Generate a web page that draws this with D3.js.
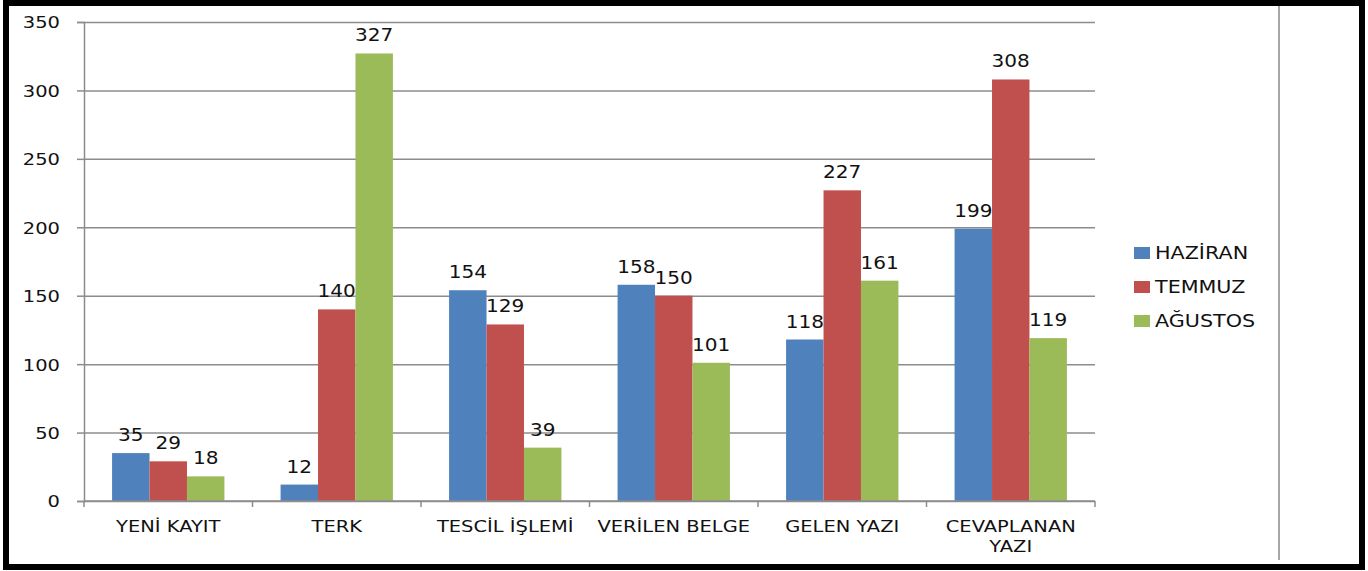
<!DOCTYPE html>
<html>
<head>
<meta charset="utf-8">
<script src="https://cdn.jsdelivr.net/npm/d3@7"></script>
<style>
  body { margin: 0; background: #fff; }
  svg { display: block; }
  text { font-family: "DejaVu Sans", sans-serif; fill: #111; }
</style>
</head>
<body>
<svg width="1368" height="571"></svg>
<script>
// chart values
const categories = ['YENİ KAYIT', 'TERK', 'TESCİL İŞLEMİ', 'VERİLEN BELGE', 'GELEN YAZI', 'CEVAPLANAN YAZI'];
const seriesNames = ['HAZİRAN', 'TEMMUZ', 'AĞUSTOS'];
const haziran = [35, 12, 154, 158, 118, 199];
const temmuz = [29, 140, 129, 150, 227, 308];
const agustos = [18, 327, 39, 101, 161, 119];
const yTicks = [0, 50, 100, 150, 200, 250, 300, 350];
const colors = ['#4F81BD', '#C0504D', '#9BBB59'];

const seriesValues = [haziran, temmuz, agustos];
const stretch = 'scale(1.18,1)';

const svg = d3.select('svg');

// outer frame
svg.append('rect')
  .attr('x', 6).attr('y', 3)
  .attr('width', 1356).attr('height', 564)
  .attr('fill', '#fff')
  .attr('stroke', '#000').attr('stroke-width', 6);

svg.append('line')
  .attr('x1', 1279).attr('x2', 1279)
  .attr('y1', 6).attr('y2', 560)
  .attr('stroke', '#a6a6a6').attr('stroke-width', 2);

const x = d3.scaleBand()
  .domain(categories)
  .range([84, 1095])
  .paddingInner(1 / 3)
  .paddingOuter(1 / 6);

const xs = d3.scaleBand()
  .domain(seriesNames)
  .range([0, x.bandwidth()]);

const y = d3.scaleLinear()
  .domain([0, 350])
  .range([501, 22]);

// gridlines + y labels
const yAxis = svg.append('g')
  .attr('transform', 'translate(84,0)')
  .call(d3.axisLeft(y).tickValues(yTicks).tickSize(7).tickPadding(0));
yAxis.select('.domain').attr('stroke', '#8c8c8c').attr('stroke-width', 1.5);
yAxis.selectAll('.tick line').attr('stroke', '#8c8c8c').attr('stroke-width', 1.5);
yAxis.selectAll('.tick').append('line')
  .attr('x1', 0).attr('x2', 1011)
  .attr('stroke', '#8c8c8c').attr('stroke-width', 1.5);
yAxis.selectAll('.tick text')
  .attr('x', 0)
  .attr('dy', '0.36em')
  .attr('font-size', 16.5)
  .attr('font-family', '"DejaVu Sans", sans-serif')
  .attr('fill', '#111')
  .attr('transform', 'translate(-24,0) ' + stretch);

// bars
const groups = svg.append('g').selectAll('g')
  .data(categories)
  .join('g')
    .attr('transform', d => `translate(${x(d)},0)`);

groups.selectAll('rect')
  .data((d, i) => seriesNames.map((s, j) => ({ s, j, v: seriesValues[j][i] })))
  .join('rect')
    .attr('x', d => xs(d.s))
    .attr('y', d => y(d.v))
    .attr('width', xs.bandwidth())
    .attr('height', d => y(0) - y(d.v))
    .attr('fill', d => colors[d.j]);

groups.selectAll('text')
  .data((d, i) => seriesNames.map((s, j) => ({ s, j, v: seriesValues[j][i] })))
  .join('text')
    .attr('text-anchor', 'middle')
    .attr('font-size', 17)
    .attr('transform', d => `translate(${xs(d.s) + xs.bandwidth() / 2},${y(d.v) - 12}) ${stretch}`)
    .text(d => d.v);

// x axis
const xAxisLine = svg.append('g');
xAxisLine.append('line')
  .attr('x1', 84).attr('x2', 1095)
  .attr('y1', 501).attr('y2', 501)
  .attr('stroke', '#8c8c8c').attr('stroke-width', 1.5);
xAxisLine.selectAll('.xtick')
  .data(d3.range(categories.length + 1))
  .join('line')
    .attr('class', 'xtick')
    .attr('x1', i => 84 + i * x.step())
    .attr('x2', i => 84 + i * x.step())
    .attr('y1', 501).attr('y2', 507)
    .attr('stroke', '#8c8c8c').attr('stroke-width', 1.5);

const catLabels = {
  'CEVAPLANAN YAZI': ['CEVAPLANAN', 'YAZI']
};
svg.append('g').selectAll('text')
  .data(categories)
  .join('text')
    .attr('text-anchor', 'middle')
    .attr('font-size', 16.5)
    .attr('transform', d => `translate(${x(d) + x.bandwidth() / 2},532) ${stretch}`)
    .each(function (d) {
      const lines = catLabels[d] || [d];
      d3.select(this).selectAll('tspan')
        .data(lines)
        .join('tspan')
          .attr('x', 0)
          .attr('dy', (l, i) => i ? 20 : 0)
          .text(l => l);
    });

// legend
const legend = svg.append('g').selectAll('g')
  .data(seriesNames)
  .join('g')
    .attr('transform', (d, i) => `translate(1134,${253 + i * 34})`);
legend.append('rect')
  .attr('x', 0).attr('y', -6)
  .attr('width', 16).attr('height', 12)
  .attr('fill', (d, i) => colors[i]);
legend.append('text')
  .attr('dy', '0.36em')
  .attr('font-size', 18)
  .attr('transform', 'translate(21,0) scale(1.15,1)')
  .text(d => d);
</script>
</body>
</html>
